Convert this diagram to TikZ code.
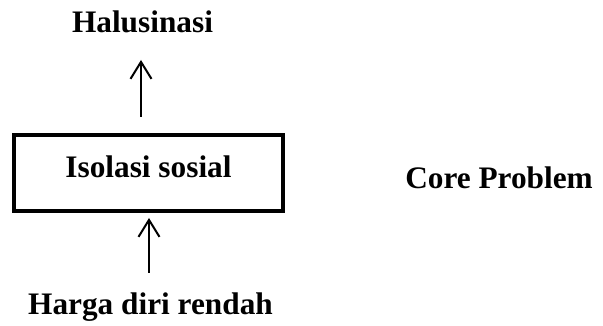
\documentclass[tikz,border=0pt]{standalone}
\usepackage{fontspec}
\setmainfont{Liberation Serif}
\usetikzlibrary{arrows.meta}
\begin{document}
\begin{tikzpicture}[x=1pt,y=1pt,
  lbl/.style={font=\fontsize{31.3pt}{37pt}\selectfont\bfseries, inner sep=0pt, anchor=base},
  mainbox/.style={draw, line width=4pt, minimum width=269pt, minimum height=76pt,
    font=\fontsize{31.3pt}{37pt}\selectfont\bfseries, text depth=12pt, inner sep=0pt},
  arr/.style={line width=2pt, -{Straight Barb[length=17pt,width=21pt,line width=2pt]}}]
\useasboundingbox (0,0) rectangle (603,326);
\node[mainbox] (iso) at (148.5,153) {Isolasi sosial};
\node[lbl] (halu) at (142.5,293) {Halusinasi};
\node[lbl] (harga) at (150.5,11) {Harga diri rendah};
\node[lbl] (core) at (499,137) {Core Problem};
\draw[arr] ([xshift=-7.5pt,yshift=16pt]iso.north) -- ([xshift=-1.5pt,yshift=-27pt]halu.base);
\draw[arr] ([xshift=-1.5pt,yshift=42pt]harga.base) -- ([xshift=0.5pt,yshift=-5pt]iso.south);
\end{tikzpicture}
\end{document}
